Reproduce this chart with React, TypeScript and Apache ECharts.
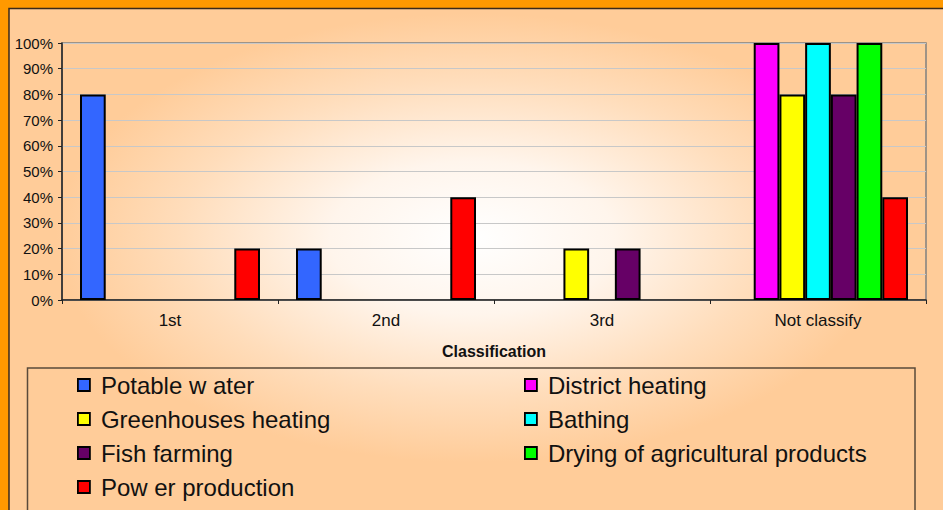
import React, { useEffect, useRef } from "react";
import * as echarts from "echarts";

const categories = ["1st", "2nd", "3rd", "Not classify"];
const seriesNames = [
  "Potable w ater",
  "District heating",
  "Greenhouses heating",
  "Bathing",
  "Fish farming",
  "Drying of agricultural products",
  "Pow er production",
];
const potableWater = [80, 20, 0, 0];
const districtHeating = [0, 0, 0, 100];
const greenhousesHeating = [0, 0, 20, 80];
const bathing = [0, 0, 0, 100];
const fishFarming = [0, 0, 20, 80];
const dryingProducts = [0, 0, 0, 100];
const powerProduction = [20, 40, 0, 40];
const seriesValues = [
  potableWater,
  districtHeating,
  greenhousesHeating,
  bathing,
  fishFarming,
  dryingProducts,
  powerProduction,
];
const seriesColors = ["#3366FF", "#FF00FF", "#FFFF00", "#00FFFF", "#660066", "#00FF00", "#FF0000"];
const leftLegend = [seriesNames[0], seriesNames[2], seriesNames[4], seriesNames[6]];
const rightLegend = [seriesNames[1], seriesNames[3], seriesNames[5]];
const axisTitle = "Classification";

const FONT = "'Liberation Sans', Arial, sans-serif";

export default function App() {
  const ref = useRef<HTMLDivElement>(null);
  useEffect(() => {
    document.body.style.margin = "0";
    if (!ref.current) return;
    const chart = echarts.init(ref.current, null, { renderer: "svg" });
    const legendCommon = {
      orient: "vertical",
      top: 373,
      padding: 0,
      itemGap: 10,
      itemWidth: 12,
      itemHeight: 12,
      icon: "rect",
      selectedMode: false,
      itemStyle: { borderColor: "#000", borderWidth: 1.8 },
      textStyle: {
        fontFamily: FONT,
        fontSize: 24,
        color: "#111",
        lineHeight: 24,
        padding: [0, 0, 0, 6],
      },
    };
    chart.setOption({
      animation: false,
      graphic: [
        {
          type: "rect",
          z: -20,
          silent: true,
          shape: { x: 0, y: 0, width: 943, height: 510 },
          style: { fill: "#FF9900" },
        },
        {
          type: "rect",
          z: -19,
          silent: true,
          shape: { x: 9, y: 8.5, width: 945, height: 510 },
          style: {
            fill: new echarts.graphic.RadialGradient(0.49, 0.45, 0.5, [
              { offset: 0, color: "#FFFFFF" },
              { offset: 0.3, color: "#FFF5EC" },
              { offset: 0.62, color: "#FFDDBB" },
              { offset: 0.88, color: "#FFCC99" },
              { offset: 1, color: "#FFCC99" },
            ]),
            stroke: "#3a2a1a",
            lineWidth: 1.5,
          },
        },
        {
          type: "rect",
          z: -18,
          silent: true,
          shape: { x: 27.5, y: 368, width: 887.5, height: 160 },
          style: { fill: "none", stroke: "#5a4a3a", lineWidth: 1.5 },
        },
      ],
      grid: {
        left: 62,
        right: 17,
        top: 43,
        bottom: 210,
        show: true,
        borderColor: "#808080",
        borderWidth: 1.5,
        backgroundColor: "transparent",
        containLabel: false,
      },
      legend: [
        { ...legendCommon, left: 77, data: leftLegend },
        { ...legendCommon, left: 524, data: rightLegend },
      ],
      xAxis: {
        type: "category",
        data: categories,
        boundaryGap: true,
        name: axisTitle,
        nameLocation: "middle",
        nameGap: 43,
        nameTextStyle: { fontFamily: FONT, fontSize: 16, fontWeight: "bold", color: "#111" },
        axisLine: { lineStyle: { color: "#222", width: 1.5 } },
        axisTick: { show: true, length: 4, lineStyle: { color: "#222", width: 1 } },
        axisLabel: { fontFamily: FONT, fontSize: 17, color: "#111", margin: 12 },
        splitLine: { show: false },
      },
      yAxis: {
        type: "value",
        min: 0,
        max: 100,
        interval: 10,
        axisLine: { show: true, lineStyle: { color: "#222", width: 1.5 } },
        axisTick: { show: true, length: 4, lineStyle: { color: "#222", width: 1 } },
        axisLabel: { fontFamily: FONT, fontSize: 15, color: "#111", margin: 9, formatter: "{value}%" },
        splitLine: { show: true, lineStyle: { color: "#C8C8C8", width: 1 } },
      },
      series: seriesNames.map((name, i) => ({
        name,
        type: "bar",
        barGap: "0%",
        barCategoryGap: "16.67%",
        data: seriesValues[i].map((v) => (v === 0 ? "-" : v)),
        itemStyle: { color: seriesColors[i], borderColor: "#000", borderWidth: 2 },
      })),
    });
    return () => chart.dispose();
  }, []);
  return <div ref={ref} style={{ width: 943, height: 510 }} />;
}
